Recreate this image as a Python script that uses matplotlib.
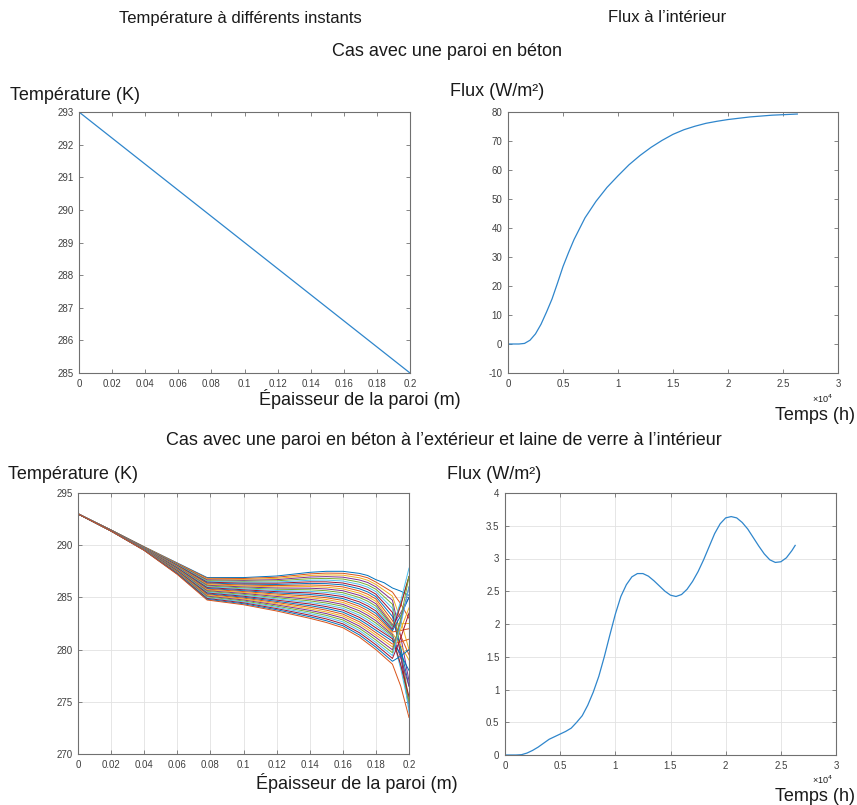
import matplotlib
matplotlib.use("Agg")
import matplotlib.pyplot as plt
from matplotlib.ticker import FuncFormatter

plt.rcParams['font.family'] = ['Liberation Sans', 'DejaVu Sans']
plt.rcParams['axes.unicode_minus'] = False

# --- case 1 : concrete wall ---
x_beton = [0, 0.05, 0.1, 0.15, 0.2]
T_beton = [293, 291, 289, 287, 285]

t_beton = [0, 1000, 1500, 2000, 2500, 3000, 3500, 4000, 4500, 5000, 5500, 6000,
           7000, 8000, 9000, 10000, 11000, 12000, 13000, 14000, 15000, 16000,
           17000, 18000, 19000, 20000, 22000, 24000, 26300]
flux_beton = [0, 0, 0.2, 1.3, 3.5, 6.8, 11, 15.5, 21, 26.7, 31.5, 36,
              43.5, 49.2, 54, 58, 61.8, 65, 67.8, 70.2, 72.3, 73.9,
              75.1, 76.1, 76.8, 77.4, 78.3, 78.9, 79.3]

# --- case 2 : concrete outside + glass wool inside ---
x_mixte = [0, 0.02, 0.04, 0.06, 0.078, 0.10, 0.12, 0.14, 0.15, 0.16, 0.17,
           0.175, 0.18, 0.185, 0.19, 0.195, 0.2]
T_mixte = [
    [293, 291.45, 289.85, 288.30, 286.90, 286.90, 287.05, 287.40, 287.50, 287.50, 287.30, 287.10, 286.70, 286.40, 285.90, 285.60, 285.20],
    [293, 291.45, 289.84, 288.26, 286.83, 286.81, 286.93, 287.25, 287.33, 287.31, 287.09, 286.88, 286.47, 285.99, 285.51, 284.38, 283.00],
    [293, 291.44, 289.83, 288.22, 286.75, 286.72, 286.82, 287.10, 287.16, 287.13, 286.88, 286.65, 286.24, 285.68, 285.12, 282.82, 280.00],
    [293, 291.44, 289.81, 288.19, 286.68, 286.63, 286.70, 286.95, 286.99, 286.94, 286.67, 286.43, 286.01, 285.37, 284.73, 281.25, 277.00],
    [293, 291.44, 289.80, 288.15, 286.60, 286.54, 286.59, 286.79, 286.82, 286.76, 286.46, 286.20, 285.78, 285.06, 284.34, 280.14, 275.00],
    [293, 291.43, 289.79, 288.11, 286.53, 286.45, 286.47, 286.64, 286.66, 286.57, 286.25, 285.98, 285.55, 284.75, 283.95, 279.47, 274.00],
    [293, 291.43, 289.78, 288.07, 286.46, 286.36, 286.36, 286.49, 286.49, 286.38, 286.04, 285.76, 285.31, 284.44, 283.56, 279.49, 274.50],
    [293, 291.43, 289.77, 288.03, 286.38, 286.27, 286.24, 286.34, 286.32, 286.20, 285.83, 285.53, 285.08, 284.13, 283.17, 280.17, 276.50],
    [293, 291.42, 289.75, 288.00, 286.31, 286.18, 286.13, 286.19, 286.15, 286.01, 285.62, 285.31, 284.85, 283.82, 282.78, 281.31, 279.50],
    [293, 291.42, 289.74, 287.96, 286.23, 286.09, 286.01, 286.04, 285.98, 285.82, 285.41, 285.08, 284.62, 283.54, 282.46, 282.48, 282.50],
    [293, 291.42, 289.73, 287.92, 286.16, 286.00, 285.90, 285.88, 285.81, 285.64, 285.20, 284.86, 284.39, 283.36, 282.33, 283.53, 285.00],
    [293, 291.41, 289.72, 287.88, 286.09, 285.91, 285.78, 285.73, 285.64, 285.45, 284.99, 284.64, 284.16, 283.18, 282.20, 284.36, 287.00],
    [293, 291.41, 289.71, 287.85, 286.01, 285.82, 285.66, 285.58, 285.47, 285.27, 284.78, 284.41, 283.93, 283.00, 282.07, 284.65, 287.80],
    [293, 291.41, 289.69, 287.81, 285.94, 285.73, 285.55, 285.43, 285.30, 285.08, 284.57, 284.19, 283.70, 282.82, 281.94, 284.22, 287.00],
    [293, 291.40, 289.68, 287.77, 285.86, 285.64, 285.43, 285.28, 285.13, 284.89, 284.36, 283.96, 283.47, 282.64, 281.81, 283.25, 285.00],
    [293, 291.40, 289.67, 287.73, 285.79, 285.56, 285.32, 285.12, 284.97, 284.71, 284.15, 283.74, 283.24, 282.47, 281.69, 281.83, 282.00],
    [293, 291.40, 289.66, 287.69, 285.71, 285.47, 285.20, 284.97, 284.80, 284.52, 283.94, 283.51, 283.00, 282.28, 281.56, 280.41, 279.00],
    [293, 291.39, 289.65, 287.66, 285.64, 285.38, 285.09, 284.82, 284.63, 284.33, 283.72, 283.29, 282.77, 282.10, 281.43, 279.22, 276.50],
    [293, 291.39, 289.63, 287.62, 285.57, 285.29, 284.97, 284.67, 284.46, 284.15, 283.51, 283.07, 282.54, 281.92, 281.30, 278.47, 275.00],
    [293, 291.38, 289.62, 287.58, 285.49, 285.20, 284.86, 284.52, 284.29, 283.96, 283.30, 282.84, 282.31, 281.74, 281.17, 278.17, 274.50],
    [293, 291.38, 289.61, 287.54, 285.42, 285.11, 284.74, 284.37, 284.12, 283.78, 283.09, 282.62, 282.08, 281.56, 281.04, 278.55, 275.50],
    [293, 291.38, 289.60, 287.50, 285.34, 285.02, 284.62, 284.21, 283.95, 283.59, 282.88, 282.39, 281.85, 281.33, 280.81, 279.55, 278.00],
    [293, 291.37, 289.58, 287.47, 285.27, 284.93, 284.51, 284.06, 283.78, 283.40, 282.67, 282.17, 281.62, 281.08, 280.53, 280.74, 281.00],
    [293, 291.37, 289.57, 287.43, 285.19, 284.84, 284.39, 283.91, 283.61, 283.22, 282.46, 281.95, 281.39, 280.83, 280.26, 281.94, 284.00],
    [293, 291.37, 289.56, 287.39, 285.12, 284.75, 284.28, 283.76, 283.45, 283.03, 282.25, 281.72, 281.16, 280.57, 279.98, 282.69, 286.00],
    [293, 291.36, 289.55, 287.35, 285.05, 284.66, 284.16, 283.61, 283.28, 282.84, 282.04, 281.50, 280.92, 280.31, 279.70, 282.99, 287.00],
    [293, 291.36, 289.54, 287.31, 284.97, 284.57, 284.05, 283.46, 283.11, 282.66, 281.83, 281.27, 280.69, 280.06, 279.43, 282.39, 286.00],
    [293, 291.36, 289.52, 287.28, 284.90, 284.48, 283.93, 283.30, 282.94, 282.47, 281.62, 281.05, 280.46, 279.81, 279.15, 281.11, 283.50],
    [293, 291.35, 289.51, 287.24, 284.82, 284.39, 283.82, 283.15, 282.77, 282.29, 281.41, 280.82, 280.23, 279.56, 278.88, 279.38, 280.00],
    [293, 291.35, 289.50, 287.20, 284.75, 284.30, 283.70, 283.00, 282.60, 282.10, 281.20, 280.60, 280.00, 279.30, 278.60, 276.50, 273.50],
]

t_mixte = [0, 1000, 1500, 2000, 2500, 3000, 3500, 4000, 4500, 5000, 5500, 6000,
           6500, 7000, 7500, 8000, 8500, 9000, 9500, 10000, 10500, 11000, 11500,
           12000, 12500, 13000, 13500, 14000, 14500, 15000, 15500, 16000, 16500,
           17000, 17500, 18000, 18500, 19000, 19500, 20000, 20500, 21000, 21500,
           22000, 22500, 23000, 23500, 24000, 24500, 25000, 25500, 26000, 26300]
flux_mixte = [0, 0, 0.005, 0.03, 0.07, 0.12, 0.18, 0.24, 0.28, 0.32, 0.36, 0.41,
              0.5, 0.6, 0.76, 0.96, 1.2, 1.5, 1.83, 2.15, 2.42, 2.6, 2.72,
              2.77, 2.77, 2.73, 2.66, 2.58, 2.5, 2.44, 2.42, 2.45, 2.53,
              2.65, 2.8, 2.98, 3.18, 3.38, 3.53, 3.62, 3.64, 3.62, 3.55,
              3.45, 3.32, 3.19, 3.07, 2.98, 2.94, 2.95, 3.01, 3.12, 3.2]

x_ticks = [0, 0.02, 0.04, 0.06, 0.08, 0.1, 0.12, 0.14, 0.16, 0.18, 0.2]
t_ticks = [0, 5000, 10000, 15000, 20000, 25000, 30000]

matlab_colors = ['#0072BD', '#D95319', '#EDB120', '#7E2F8E', '#77AC30', '#4DBEEE', '#A2142F']
line_blue = '#2f86cc'

W, H = 857, 805
fig = plt.figure(figsize=(W / 100, H / 100), dpi=100)


def add_ax(left, top, right, bottom):
    return fig.add_axes([left / W, 1 - bottom / H, (right - left) / W, (bottom - top) / H])


def style(ax, grid=False):
    for s in ax.spines.values():
        s.set_color('#707070')
        s.set_linewidth(0.8)
    ax.tick_params(direction='in', top=True, right=True, length=3, width=0.6,
                   colors='#707070', labelcolor='#404040', labelsize=7, pad=4)
    if grid:
        ax.grid(True, color='#e2e2e2', lw=0.6)
        ax.set_axisbelow(True)


def ftext(x, y, s, size, ha='left', **kw):
    fig.text(x / W, 1 - y / H, s, fontsize=size, ha=ha, va='center', color='#1a1a1a', **kw)


fmt_g = FuncFormatter(lambda v, p: '{:g}'.format(v))
fmt_t = FuncFormatter(lambda v, p: '{:g}'.format(v / 1e4))

# top left
ax1 = add_ax(79, 112, 410, 373)
ax1.plot(x_beton, T_beton, color=line_blue, lw=0.9)
ax1.set_xlim(0, 0.2)
ax1.set_ylim(285, 293)
ax1.set_xticks(x_ticks)
ax1.xaxis.set_major_formatter(fmt_g)
ax1.set_yticks(range(285, 294))
style(ax1)

# top right
ax2 = add_ax(508, 112, 838, 373)
ax2.plot(t_beton, flux_beton, color=line_blue, lw=0.9)
ax2.set_xlim(0, 30000)
ax2.set_ylim(-10, 80)
ax2.set_xticks(t_ticks)
ax2.xaxis.set_major_formatter(fmt_t)
ax2.set_yticks(range(-10, 81, 10))
style(ax2)

# bottom left
ax3 = add_ax(78, 493, 409, 754)
for i, T in enumerate(T_mixte):
    ax3.plot(x_mixte, T, color=matlab_colors[i % 7], lw=0.7)
ax3.set_xlim(0, 0.2)
ax3.set_ylim(270, 295)
ax3.set_xticks(x_ticks)
ax3.xaxis.set_major_formatter(fmt_g)
ax3.set_yticks(range(270, 296, 5))
style(ax3, grid=True)

# bottom right
ax4 = add_ax(505, 493, 836, 755)
ax4.plot(t_mixte, flux_mixte, color=line_blue, lw=0.9)
ax4.set_xlim(0, 30000)
ax4.set_ylim(0, 4)
ax4.set_xticks(t_ticks)
ax4.xaxis.set_major_formatter(fmt_t)
ax4.set_yticks([0, 0.5, 1, 1.5, 2, 2.5, 3, 3.5, 4])
ax4.yaxis.set_major_formatter(fmt_g)
style(ax4, grid=True)

# texts
ftext(240, 18, 'Température à différents instants', 12, ha='center')
ftext(667, 18, 'Flux à l\u2019intérieur', 12, ha='center')
ftext(447, 52, 'Cas avec une paroi en béton', 13, ha='center')

ftext(10, 96, 'Température (K)', 13)
ftext(450, 92, 'Flux (W/m²)', 13)
ftext(360, 399, 'Épaisseur de la paroi (m)', 13, ha='center')
ftext(833, 399, '×10$^4$', 6.5, ha='right')
ftext(855, 415, 'Temps (h)', 13, ha='right')

ftext(444, 440, 'Cas avec une paroi en béton à l\u2019extérieur et laine de verre à l\u2019intérieur', 13, ha='center')
ftext(8, 474, 'Température (K)', 13)
ftext(447, 474, 'Flux (W/m²)', 13)
ftext(357, 783, 'Épaisseur de la paroi (m)', 13, ha='center')
ftext(833, 780, '×10$^4$', 6.5, ha='right')
ftext(855, 796, 'Temps (h)', 13, ha='right')

fig.savefig('out.png', dpi=100, facecolor='white')
